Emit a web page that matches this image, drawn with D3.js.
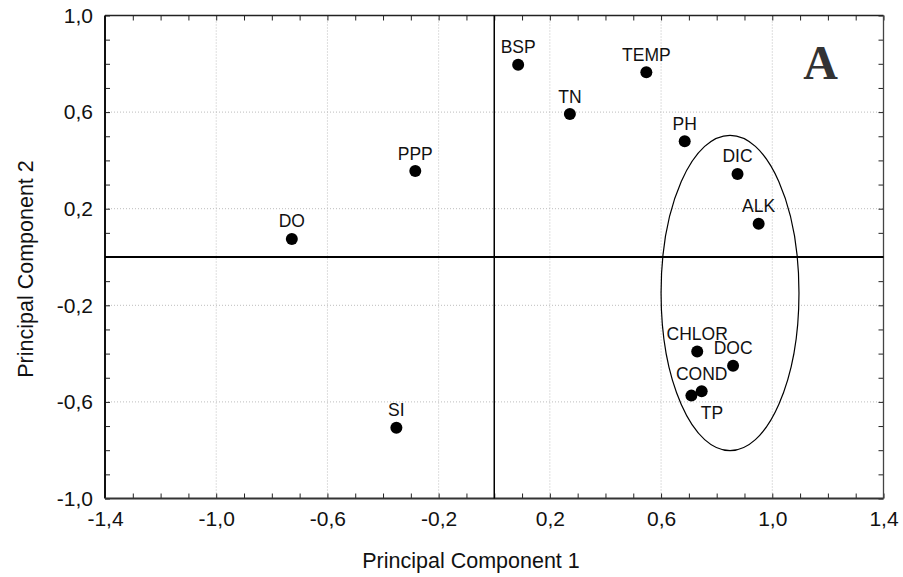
<!DOCTYPE html>
<html>
<head>
<meta charset="utf-8">
<script src="https://cdn.jsdelivr.net/npm/d3@7"></script>
<style>
  body { margin: 0; background: #fff; }
  text { font-family: "Liberation Sans", Arial, sans-serif; fill: #111; }
</style>
</head>
<body>
<svg id="chart"></svg>
<script>
// loadings of each variable on the first two components
const variables = ["BSP", "TEMP", "TN", "PH", "PPP", "DIC", "DO", "ALK", "CHLOR", "DOC", "COND", "TP", "SI"];
const pc1 = [0.086, 0.547, 0.272, 0.685, -0.284, 0.875, -0.728, 0.951, 0.730, 0.859, 0.746, 0.709, -0.352];
const pc2 = [0.796, 0.765, 0.592, 0.479, 0.356, 0.344, 0.075, 0.138, -0.391, -0.450, -0.556, -0.574, -0.707];

const xTicks = [-1.4, -1.0, -0.6, -0.2, 0.2, 0.6, 1.0, 1.4];
const yTicks = [-1.0, -0.6, -0.2, 0.2, 0.6, 1.0];

// group ellipse: centre and half axes, in component units
const groupEllipse = [0.848, -0.149, 0.248, 0.653];

const W = 903, H = 577;
const margin = { top: 15.5, right: 19.5, bottom: 78.5, left: 105 };
const width = W - margin.left - margin.right;
const height = H - margin.top - margin.bottom;

const svg = d3.select('#chart').attr('width', W).attr('height', H);
const g = svg.append('g').attr('transform', `translate(${margin.left},${margin.top})`);

const x = d3.scaleLinear().domain([-1.4, 1.4]).range([0, width]);
const y = d3.scaleLinear().domain([-1, 1]).range([height, 0]);

const fmt = d3.formatLocale({ decimal: ",", thousands: ".", grouping: [3], currency: ["", ""], minus: "-" }).format(".1f");

// dotted grid (not at the frame edges)
g.append('g').selectAll('line')
  .data(xTicks.slice(1, -1))
  .join('line')
  .attr('x1', d => x(d)).attr('x2', d => x(d))
  .attr('y1', 0).attr('y2', height)
  .attr('stroke', '#bdbdbd').attr('stroke-dasharray', '1,2');
g.append('g').selectAll('line')
  .data(yTicks.slice(1, -1))
  .join('line')
  .attr('y1', d => y(d)).attr('y2', d => y(d))
  .attr('x1', 0).attr('x2', width)
  .attr('stroke', '#bdbdbd').attr('stroke-dasharray', '1,2');

// minor ticks, pointing inward on all four sides
const minorX = x.ticks(28), minorY = y.ticks(20);
const tickStyle = sel => { sel.select('.domain').remove(); sel.selectAll('.tick line').attr('stroke', '#222'); };
g.append('g').attr('transform', `translate(0,${height})`)
  .call(d3.axisBottom(x).tickValues(minorX).tickSize(-5).tickFormat('')).call(tickStyle);
g.append('g')
  .call(d3.axisTop(x).tickValues(minorX).tickSize(-5).tickFormat('')).call(tickStyle);
g.append('g')
  .call(d3.axisLeft(y).tickValues(minorY).tickSize(-5).tickFormat('')).call(tickStyle);
g.append('g').attr('transform', `translate(${width},0)`)
  .call(d3.axisRight(y).tickValues(minorY).tickSize(-5).tickFormat('')).call(tickStyle);

// tick labels
const xAxis = g.append('g').attr('transform', `translate(0,${height})`)
  .call(d3.axisBottom(x).tickValues(xTicks).tickSize(0).tickPadding(13).tickFormat(fmt));
xAxis.select('.domain').remove();
xAxis.selectAll('text').attr('font-size', 21).attr('fill', '#111');

const yAxis = g.append('g')
  .call(d3.axisLeft(y).tickValues(yTicks).tickSize(0).tickPadding(12).tickFormat(fmt));
yAxis.select('.domain').remove();
yAxis.selectAll('text').attr('font-size', 21).attr('fill', '#111');

// frame
g.append('line').attr('x1', 0).attr('x2', width).attr('y1', 0).attr('y2', 0).attr('stroke', '#222').attr('stroke-width', 1.3);
g.append('line').attr('x1', width).attr('x2', width).attr('y1', 0).attr('y2', height).attr('stroke', '#444').attr('stroke-width', 1.3);
g.append('line').attr('x1', 0).attr('x2', 0).attr('y1', 0).attr('y2', height).attr('stroke', '#111').attr('stroke-width', 2);
g.append('line').attr('x1', 0).attr('x2', width).attr('y1', height).attr('y2', height).attr('stroke', '#333').attr('stroke-width', 2);

// zero lines
g.append('line').attr('x1', 0).attr('x2', width).attr('y1', y(0)).attr('y2', y(0)).attr('stroke', '#000').attr('stroke-width', 2);
g.append('line').attr('x1', x(0)).attr('x2', x(0)).attr('y1', 0).attr('y2', height).attr('stroke', '#000').attr('stroke-width', 1.5);

// ellipse round the right-hand group
const [ecx, ecy, erx, ery] = groupEllipse;
g.append('ellipse')
  .attr('cx', x(ecx)).attr('cy', y(ecy))
  .attr('rx', x(ecx + erx) - x(ecx)).attr('ry', y(ecy) - y(ecy + ery))
  .attr('fill', 'none').attr('stroke', '#000').attr('stroke-width', 1.2);

const points = variables.map((name, i) => ({ name, pc1: pc1[i], pc2: pc2[i] }));

g.selectAll('.dot')
  .data(points)
  .join('circle')
  .attr('class', 'dot')
  .attr('cx', d => x(d.pc1)).attr('cy', d => y(d.pc2))
  .attr('r', 6).attr('fill', '#000');

// labels sit above the point, TP is pushed below to avoid COND
const labelNudge = { TP: [20.5, 23.6] };
g.selectAll('.lbl')
  .data(points)
  .join('text')
  .attr('class', 'lbl')
  .attr('x', d => x(d.pc1) + (labelNudge[d.name] ? labelNudge[d.name][0] : 0))
  .attr('y', d => y(d.pc2) + (labelNudge[d.name] ? labelNudge[d.name][1] : -11.5))
  .attr('text-anchor', 'middle')
  .attr('font-size', 17.5)
  .text(d => d.name);

// panel letter
g.append('text')
  .attr('x', 820.7 - margin.left).attr('y', 79.3 - margin.top)
  .attr('text-anchor', 'middle')
  .style('font-family', '"Liberation Serif", "Times New Roman", serif')
  .attr('font-weight', 'bold').attr('font-size', 48)
  .style('fill', '#333')
  .text('A');

// axis titles
svg.append('text')
  .attr('x', 471).attr('y', 567.7)
  .attr('text-anchor', 'middle').attr('font-size', 21.5)
  .text('Principal Component 1');
svg.append('text')
  .attr('transform', 'translate(33,269) rotate(-90)')
  .attr('text-anchor', 'middle').attr('font-size', 21.5)
  .text('Principal Component 2');
</script>
</body>
</html>
